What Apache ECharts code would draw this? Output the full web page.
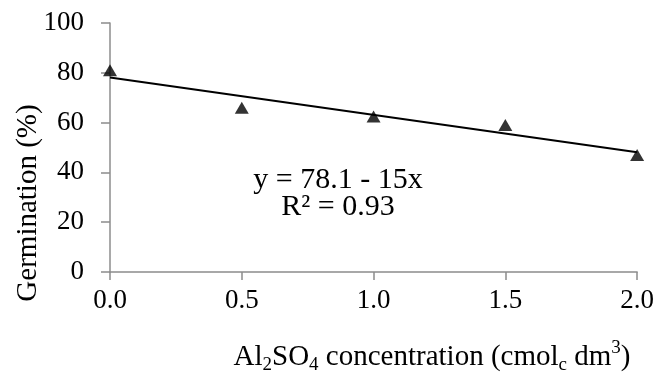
<!DOCTYPE html>
<html>
<head>
<meta charset="utf-8">
<script src="https://cdn.jsdelivr.net/npm/echarts@6/dist/echarts.min.js"></script>
<style>
  html, body { margin: 0; padding: 0; background: #fff; }
  #chart { width: 657px; height: 376px; }
</style>
</head>
<body>
<div id="chart"></div>
<script>
// concentration levels and germination
const concentration = [0.0, 0.5, 1.0, 1.5, 2.0];
const germination = [81, 66, 62.5, 59, 47];
// fitted line y = 78.1 - 15x, end points
const trendX = [0.0, 2.0];
const trendY = [78.1, 48.1];
const yTicks = [0, 20, 40, 60, 80, 100];

const font = "Liberation Serif";
const axisGray = "#8c8c8c";
const ink = "#000";

const chart = echarts.init(document.getElementById("chart"));

const option = {
  animation: false,
  backgroundColor: "#fff",
  grid: { left: 110, right: 19, top: 23, bottom: 104 },
  xAxis: {
    type: "value",
    min: 0,
    max: 2,
    interval: 0.5,
    axisLine: { lineStyle: { color: axisGray, width: 1.5 } },
    axisTick: { show: true, length: 8, lineStyle: { color: axisGray, width: 1.5 } },
    axisLabel: {
      margin: 15,
      fontFamily: font,
      fontSize: 27,
      color: ink,
      formatter: (v) => v.toFixed(1),
    },
    splitLine: { show: false },
  },
  yAxis: {
    type: "value",
    min: yTicks[0],
    max: yTicks[yTicks.length - 1],
    interval: 20,
    axisLine: { show: true, lineStyle: { color: axisGray, width: 1.5 } },
    axisTick: { show: true, length: 9, lineStyle: { color: axisGray, width: 1.5 } },
    axisLabel: { margin: 26, fontFamily: font, fontSize: 27, color: ink },
    splitLine: { show: false },
  },
  series: [
    {
      type: "line",
      data: trendX.map((x, i) => [x, trendY[i]]),
      symbol: "none",
      lineStyle: { color: "#000", width: 2 },
      z: 2,
    },
    {
      type: "scatter",
      data: concentration.map((x, i) => [x, germination[i]]),
      symbol: "triangle",
      symbolSize: [14, 12],
      itemStyle: { color: "#000" },
      z: 3,
    },
  ],
  graphic: [
    {
      type: "text",
      x: 338,
      y: 180,
      style: {
        text: "y = 78.1 - 15x",
        font: "30px " + font,
        fill: ink,
        align: "center",
        verticalAlign: "middle",
      },
    },
    {
      type: "text",
      x: 338,
      y: 207,
      style: {
        text: "R² = 0.93",
        font: "30px " + font,
        fill: ink,
        align: "center",
        verticalAlign: "middle",
      },
    },
    {
      type: "text",
      x: 28,
      y: 203,
      rotation: Math.PI / 2,
      style: {
        text: "Germination (%)",
        font: "29px " + font,
        fill: ink,
        align: "center",
        verticalAlign: "middle",
      },
    },
    {
      type: "text",
      x: 432,
      y: 357,
      style: {
        text: "{t|Al}{sub|2}{t|SO}{sub|4}{t| concentration (cmol}{sub|c}{t| dm}{sup|3}{t|)}",
        align: "center",
        verticalAlign: "middle",
        rich: {
          t: { fontFamily: font, fontSize: 29, color: ink, lineHeight: 36, verticalAlign: "middle" },
          sub: { fontFamily: font, fontSize: 19, color: ink, lineHeight: 36, verticalAlign: "bottom", padding: [9, 0, 0, 0] },
          sup: { fontFamily: font, fontSize: 19, color: ink, lineHeight: 36, verticalAlign: "top", padding: [0, 0, 9, 0] },
        },
      },
    },
  ],
};

chart.setOption(option);
</script>
</body>
</html>
